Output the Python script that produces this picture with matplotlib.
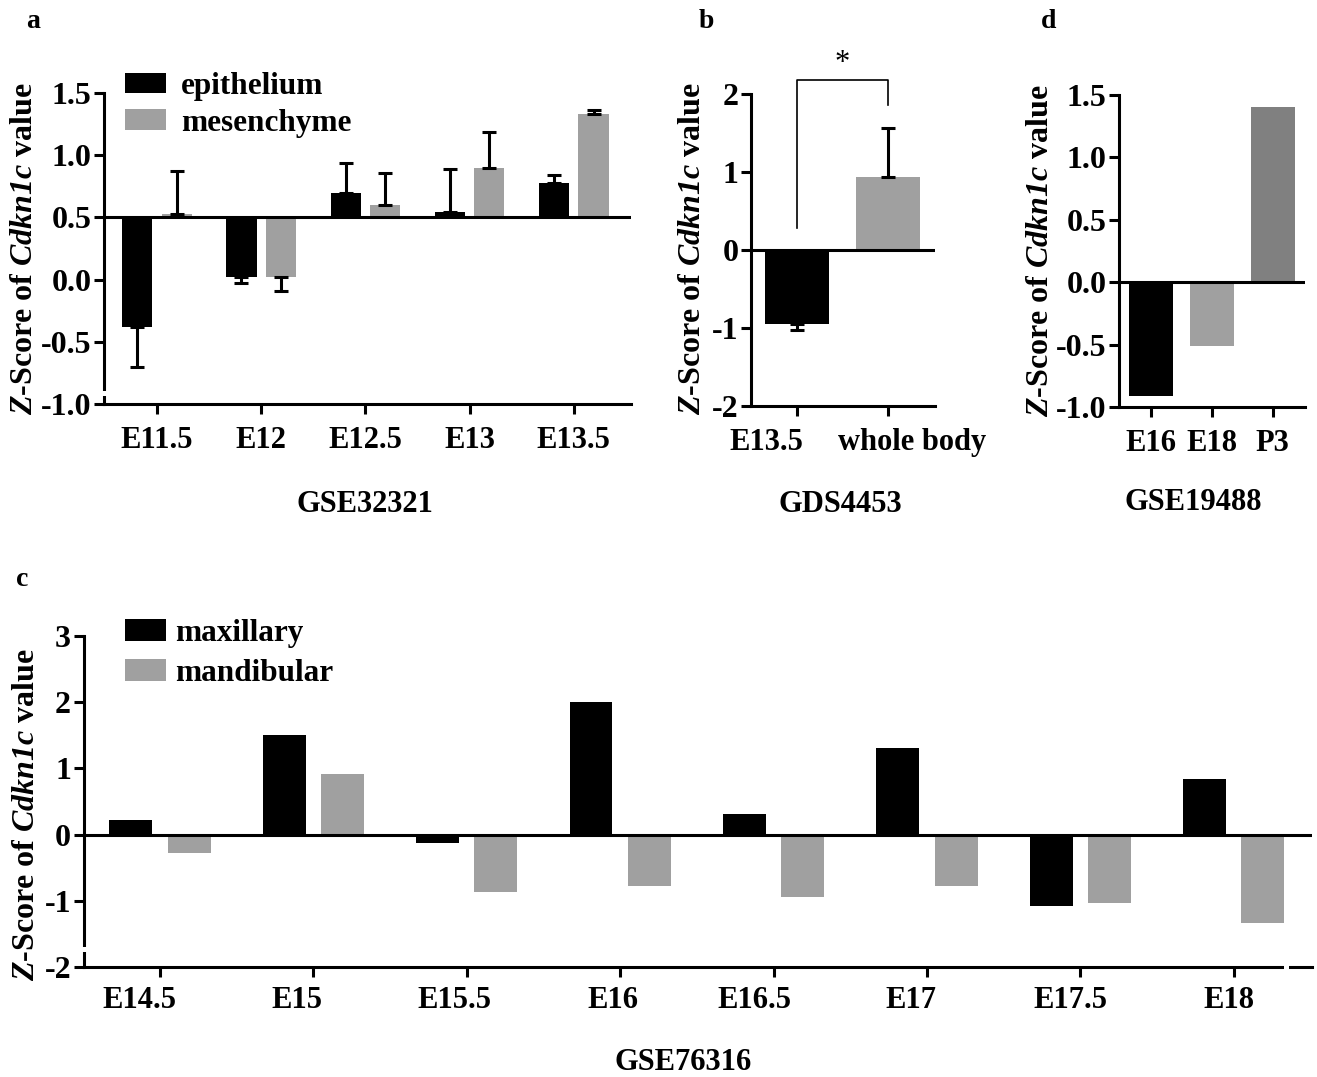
import numpy as np
import matplotlib
matplotlib.use("Agg")
import matplotlib.pyplot as plt
from matplotlib.patches import Rectangle
from matplotlib.transforms import ScaledTranslation

# ---------------- data ----------------
# panel a (GSE32321), bars drawn from a baseline of 0.5
a_categories = ["E11.5", "E12", "E12.5", "E13", "E13.5"]
a_baseline = 0.5
a_epithelium = [-0.38, 0.02, 0.70, 0.54, 0.78]
a_epithelium_err = [0.32, 0.05, 0.24, 0.35, 0.06]
a_mesenchyme = [0.53, 0.02, 0.60, 0.90, 1.33]
a_mesenchyme_err = [0.34, 0.11, 0.26, 0.29, 0.03]
a_yticks = [-1.0, -0.5, 0.0, 0.5, 1.0, 1.5]

# panel b (GDS4453)
b_categories = ["E13.5", "whole body"]
b_values = [-0.95, 0.94]
b_err = [0.08, 0.62]
b_yticks = [-2, -1, 0, 1, 2]

# panel d (GSE19488)
d_categories = ["E16", "E18", "P3"]
d_values = [-0.915, -0.51, 1.405]
d_yticks = [-1.0, -0.5, 0.0, 0.5, 1.0, 1.5]

# panel c (GSE76316)
c_categories = ["E14.5", "E15", "E15.5", "E16", "E16.5", "E17", "E17.5", "E18"]
c_maxillary = [0.22, 1.50, -0.12, 2.00, 0.31, 1.31, -1.08, 0.84]
c_mandibular = [-0.28, 0.92, -0.87, -0.78, -0.94, -0.77, -1.04, -1.33]
c_yticks = [-2, -1, 0, 1, 2, 3]

# ---------------- style ----------------
plt.rcParams.update({
    "font.family": ["Liberation Serif", "DejaVu Serif"],
    "font.weight": "bold",
    "axes.labelweight": "bold",
    "axes.unicode_minus": False,
    "mathtext.fontset": "custom",
    "mathtext.it": "Liberation Serif:italic:bold",
    "mathtext.rm": "Liberation Serif:italic:bold",
    "mathtext.bf": "Liberation Serif:italic:bold",
})

BLACK = "#000000"
GRAY = "#a0a0a0"
DARK = "#808080"
LW = 2.2
XTICK_FS = 22
YTICK_FS = 23
YLAB = r"$Z$-Score of $Cdkn1c$ value"

W, H = 1317, 1077
fig = plt.figure(figsize=(W / 100, H / 100), dpi=100)


def px_axes(left, top, right, bottom):
    return fig.add_axes([left / W, 1 - bottom / H, (right - left) / W, (bottom - top) / H])


def style(ax):
    for s in ["top", "right"]:
        ax.spines[s].set_visible(False)
    for s in ["left", "bottom"]:
        ax.spines[s].set_linewidth(LW)
    ax.tick_params(direction="out", length=7, width=LW)
    ax.tick_params(axis="x", labelsize=XTICK_FS, pad=9)
    ax.tick_params(axis="y", labelsize=YTICK_FS, pad=2)
    for lab in ax.get_xticklabels() + ax.get_yticklabels():
        lab.set_fontweight("bold")


def shift_xlabels(ax, offsets_px):
    for lab, dx in zip(ax.get_xticklabels(), offsets_px):
        lab.set_transform(lab.get_transform() + ScaledTranslation(dx / 100, 0, fig.dpi_scale_trans))


def gap(x0, y0, w, h):
    fig.add_artist(Rectangle((x0 / W, 1 - (y0 + h) / H), w / W, h / H, transform=fig.transFigure,
                             facecolor="white", edgecolor="none", zorder=10))


# ---------------- panel a ----------------
axa = px_axes(104, 93, 631, 404)
xa = np.arange(len(a_categories))
off, bw = 0.19, 0.29
for vals, errs, col, dx, lab in [(a_epithelium, a_epithelium_err, BLACK, -off, "epithelium"),
                                 (a_mesenchyme, a_mesenchyme_err, GRAY, off, "mesenchyme")]:
    vals = np.array(vals)
    errs = np.array(errs)
    axa.bar(xa + dx, vals - a_baseline, bottom=a_baseline, width=bw, color=col,
            linewidth=0, label=lab, zorder=2)
    lower = np.where(vals < a_baseline, errs, 0)
    upper = np.where(vals >= a_baseline, errs, 0)
    axa.errorbar(xa + dx, vals, yerr=[lower, upper], fmt="none", ecolor="black",
                 elinewidth=LW, capsize=5, capthick=LW, zorder=3)
axa.axhline(a_baseline, color="black", lw=LW, zorder=4)
axa.set_xlim(-0.51, 4.55)
axa.set_ylim(-1.0, 1.5)
axa.set_yticks(a_yticks)
axa.set_yticklabels([f"{t:.1f}" for t in a_yticks])
axa.set_xticks(xa)
axa.set_xticklabels(a_categories)
style(axa)
axa.legend(loc="upper left", bbox_to_anchor=(125 / W, 1 - 72 / H), bbox_transform=fig.transFigure,
           frameon=False, handlelength=1.3, handleheight=0.65, handletextpad=0.5,
           labelspacing=0.25, borderpad=0, borderaxespad=0, prop={"weight": "bold", "size": 22.5})
gap(98, 391, 12, 5)

# ---------------- panel b ----------------
axb = px_axes(751, 94, 935, 406)
xb = np.arange(len(b_categories))
axb.bar(xb, b_values, width=0.7, color=[BLACK, GRAY], linewidth=0, zorder=2)
bv = np.array(b_values)
be = np.array(b_err)
axb.errorbar(xb, bv, yerr=[np.where(bv < 0, be, 0), np.where(bv >= 0, be, 0)], fmt="none",
             ecolor="black", elinewidth=LW, capsize=5, capthick=LW, zorder=3)
axb.axhline(0, color="black", lw=LW, zorder=4)
axb.set_xlim(-0.5, 1.51)
axb.set_ylim(-2, 2)
axb.set_yticks(b_yticks)
axb.set_xticks(xb)
axb.set_xticklabels(b_categories)
style(axb)
shift_xlabels(axb, [-30, 24])
# significance bracket
axb.plot([xb[0], xb[0], xb[1], xb[1]], [0.28, 2.18, 2.18, 1.86], color="black", lw=1.2,
         clip_on=False, zorder=5)
axb.text((xb[0] + xb[1]) / 2, 2.2, "*", ha="center", va="bottom", fontsize=22,
         fontweight="normal", clip_on=False)

# ---------------- panel d ----------------
axd = px_axes(1119, 95, 1305, 407)
xd = np.arange(len(d_categories))
axd.bar(xd, d_values, width=0.73, color=[BLACK, GRAY, DARK], linewidth=0, zorder=2)
axd.axhline(0, color="black", lw=LW, zorder=4)
axd.set_xlim(-0.53, 2.53)
axd.set_ylim(-1.0, 1.5)
axd.set_yticks(d_yticks)
axd.set_yticklabels([f"{t:.1f}" for t in d_yticks])
axd.set_xticks(xd)
axd.set_xticklabels(d_categories)
style(axd)

# ---------------- panel c ----------------
axc = px_axes(83.5, 636, 1312, 967)
xc = np.arange(len(c_categories))
axc.bar(xc - 0.19, c_maxillary, width=0.28, color=BLACK, linewidth=0, label="maxillary", zorder=2)
axc.bar(xc + 0.19, c_mandibular, width=0.28, color=GRAY, linewidth=0, label="mandibular", zorder=2)
axc.axhline(0, color="black", lw=LW, zorder=4)
axc.set_xlim(-0.498, 7.51)
axc.set_ylim(-2, 3)
axc.set_yticks(c_yticks)
axc.set_xticks(xc)
axc.set_xticklabels(c_categories)
style(axc)
axc.tick_params(axis="x", pad=7)
shift_xlabels(axc, [-20, -16, -12, -7, -19, -16, -10, -5])
axc.legend(loc="upper left", bbox_to_anchor=(125 / W, 1 - 619 / H), bbox_transform=fig.transFigure,
           frameon=False, handlelength=1.3, handleheight=0.7, handletextpad=0.3,
           labelspacing=0.35, borderpad=0, borderaxespad=0, prop={"weight": "bold", "size": 22.5})
gap(78, 947, 12, 5)
gap(1284, 962, 5, 10)

# ---------------- text ----------------
for x, y, s in [(33, 22, "a"), (706, 22, "b"), (1049, 22, "d"), (22, 580, "c")]:
    fig.text(x / W, 1 - y / H, s, ha="center", va="center", fontsize=20, fontweight="bold")
for x, y, s in [(365, 505, "GSE32321"), (840, 505, "GDS4453"), (1193, 503, "GSE19488"),
                (683, 1062, "GSE76316")]:
    fig.text(x / W, 1 - y / H, s, ha="center", va="center", fontsize=22, fontweight="bold")
for x, y in [(25, 249), (692, 249), (1041, 251), (27, 815)]:
    fig.text(x / W, 1 - y / H, YLAB, ha="center", va="center", rotation=90, fontsize=23,
             fontweight="bold")

fig.savefig("out.png", dpi=100)
